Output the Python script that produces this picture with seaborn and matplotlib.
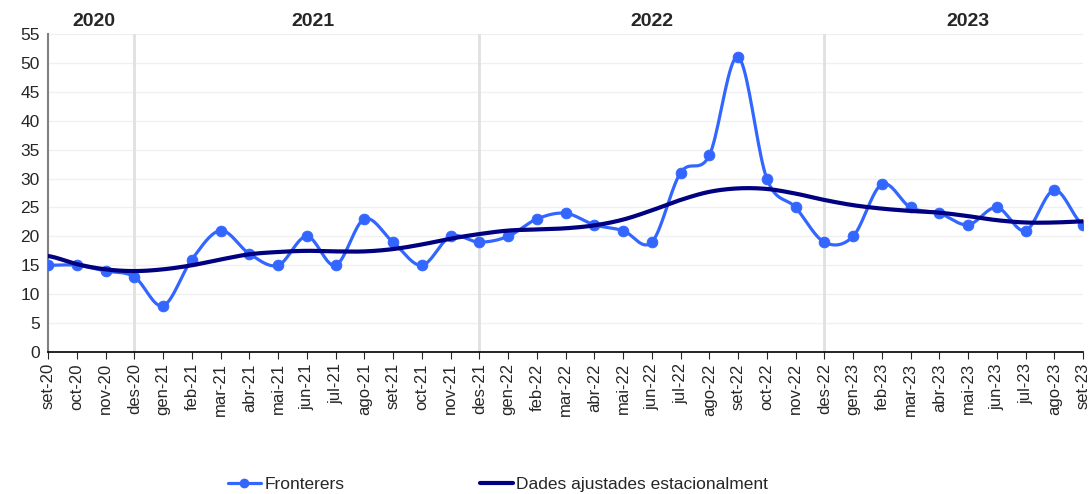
import numpy as np
import pandas as pd
import seaborn as sns
import matplotlib.pyplot as plt
from matplotlib.lines import Line2D

mesos = ["set-20", "oct-20", "nov-20", "des-20",
         "gen-21", "feb-21", "mar-21", "abr-21", "mai-21", "jun-21", "jul-21", "ago-21",
         "set-21", "oct-21", "nov-21", "des-21",
         "gen-22", "feb-22", "mar-22", "abr-22", "mai-22", "jun-22", "jul-22", "ago-22",
         "set-22", "oct-22", "nov-22", "des-22",
         "gen-23", "feb-23", "mar-23", "abr-23", "mai-23", "jun-23", "jul-23", "ago-23",
         "set-23"]

fronterers = [15, 15, 14, 13, 8, 16, 21, 17, 15, 20, 15, 23, 19, 15, 20, 19,
              20, 23, 24, 22, 21, 19, 31, 34, 51, 30, 25, 19,
              20, 29, 25, 24, 22, 25, 21, 28, 22]

ajustades = [16.6, 15.2, 14.3, 14.0, 14.3, 15.0, 16.0, 16.9, 17.3, 17.5, 17.4, 17.4,
             17.8, 18.6, 19.6, 20.4, 21.0, 21.2, 21.4, 21.9, 22.9, 24.5, 26.3, 27.7,
             28.3, 28.2, 27.4, 26.3, 25.4, 24.8, 24.4, 24.1, 23.5, 22.8, 22.4, 22.4,
             22.6]

anys = ["2020", "2021", "2022", "2023"]
anys_pos = [1.6, 9.2, 21.0, 32.0]
talls = [3, 15, 27]


def suavitza(y, n=20):
    # corba tipus Excel (Catmull-Rom)
    y = np.asarray(y, dtype=float)
    p = np.concatenate([[y[0]], y, [y[-1]]])
    xs, ys = [], []
    for i in range(len(y) - 1):
        p0, p1, p2, p3 = p[i], p[i + 1], p[i + 2], p[i + 3]
        t = np.linspace(0, 1, n, endpoint=False)
        v = 0.5 * ((2 * p1) + (-p0 + p2) * t + (2 * p0 - 5 * p1 + 4 * p2 - p3) * t ** 2
                   + (-p0 + 3 * p1 - 3 * p2 + p3) * t ** 3)
        xs.extend(i + t)
        ys.extend(v)
    xs.append(len(y) - 1)
    ys.append(y[-1])
    return pd.DataFrame({"x": xs, "y": ys})


sns.set_style("white")
plt.rcParams["font.family"] = ["Liberation Sans", "DejaVu Sans"]

fig = plt.figure(figsize=(10.92, 4.94), dpi=100)
ax = fig.add_axes([0.044, 0.2874, 0.9478, 0.6438])

blau = "#3366ff"
mari = "#000080"

ax.set_ylim(0, 55)
ax.set_xlim(0, len(mesos) - 1)
ax.set_yticks(range(0, 56, 5))
for v in range(5, 56, 5):
    ax.axhline(v, color="#f0f0f0", lw=1, zorder=0)
for t in talls:
    ax.axvline(t, color="#e0e0e0", lw=2, zorder=1)

df_f = suavitza(fronterers)
df_a = suavitza(ajustades)
sns.lineplot(data=df_f, x="x", y="y", ax=ax, color=blau, lw=2.3, zorder=3)
sns.scatterplot(x=np.arange(len(mesos)), y=fronterers, ax=ax, color=blau, s=60,
                edgecolor=blau, zorder=4)
sns.lineplot(data=df_a, x="x", y="y", ax=ax, color=mari, lw=3, zorder=5)

ax.set_xticks(range(len(mesos)))
ax.set_xticklabels(mesos, rotation=90, fontsize=12)
ax.tick_params(axis="y", labelsize=12.5, length=4, color="#808080", pad=2)
ax.tick_params(axis="x", length=5, direction="out", bottom=True, pad=3)
ax.set_xlabel("")
ax.set_ylabel("")

for s in ["top", "right"]:
    ax.spines[s].set_visible(False)
ax.spines["left"].set_color("#808080")
ax.spines["left"].set_linewidth(1.5)
ax.spines["bottom"].set_color("black")
ax.spines["bottom"].set_linewidth(1.2)

for nom, pos in zip(anys, anys_pos):
    ax.text(pos, 57.1, nom, ha="center", va="center", fontsize=14, fontweight="bold")

handles = [Line2D([0], [0], color=blau, lw=2.3, marker="o", markersize=6),
           Line2D([0], [0], color=mari, lw=3)]
fig.legend(handles, ["Fronterers", "Dades ajustades estacionalment"], loc="center",
           bbox_to_anchor=(0.456, 0.02), ncol=2, frameon=False, fontsize=12.5,
           handlelength=1.9, handletextpad=0.2, columnspacing=7.8)

fig.savefig("out.png", dpi=100)
